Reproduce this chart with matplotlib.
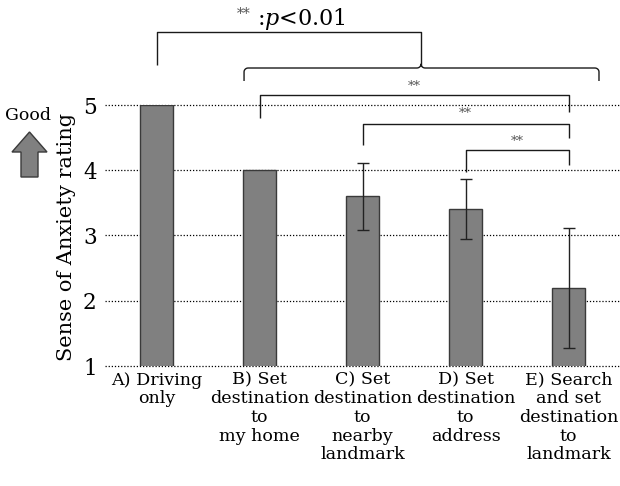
import matplotlib
matplotlib.use('Agg')
import matplotlib.pyplot as plt
import numpy as np
from matplotlib.patches import Polygon

categories = ["A) Driving\nonly",
              "B) Set\ndestination\nto\nmy home",
              "C) Set\ndestination\nto\nnearby\nlandmark",
              "D) Set\ndestination\nto\naddress",
              "E) Search\nand set\ndestination\nto\nlandmark"]
means = [5.0, 4.0, 3.6, 3.4, 2.2]
errors = [0.0, 0.0, 0.51, 0.46, 0.92]
yticks = [1, 2, 3, 4, 5]
ylabel = "Sense of Anxiety rating"
sig_label = "**"

plt.rcParams['font.family'] = ['DejaVu Serif']
plt.rcParams['mathtext.fontset'] = 'dejavuserif'

W, H = 620, 486
fig = plt.figure(figsize=(W / 100, H / 100), dpi=100)
ax = fig.add_axes([105 / W, 120 / H, 515 / W, 261 / H])

x = np.arange(len(categories))
ax.bar(x, means, width=0.32, color='#808080', edgecolor='#3a3a3a', linewidth=1.0, zorder=3)
for xi, m, e in zip(x, means, errors):
    if e > 0:
        ax.errorbar(xi, m, yerr=e, fmt='none', ecolor='#222222', elinewidth=1.0,
                    capsize=4, capthick=1.0, zorder=4)

ax.set_xlim(-0.5, 4.5)
ax.set_ylim(1, 5)
ax.set_yticks(yticks)
ax.set_yticklabels([str(t) for t in yticks], fontsize=15.5)
ax.set_xticks(x)
ax.set_xticklabels(categories, fontsize=12.6, linespacing=1.13, va='top')
ax.tick_params(axis='both', length=0)
ax.tick_params(axis='y', pad=6)
ax.tick_params(axis='x', pad=4)
for s in ax.spines.values():
    s.set_visible(False)
ax.yaxis.grid(True, linestyle=(0, (1, 1.5)), color='black', linewidth=0.9, zorder=0)
for gl in ax.yaxis.get_gridlines():
    gl.set_clip_on(False)

fig.text(67 / W, 1 - 237 / H, ylabel, rotation=90, fontsize=15, ha='center', va='center')

lc = '#1a1a1a'
lw = 1.0

def seg(xs, ys):
    ax.plot(xs, ys, color=lc, lw=lw, clip_on=False, solid_capstyle='butt', zorder=5)

# top bracket A vs group
xm = 2.568
seg([0, 0, xm, xm], [5.613, 6.119, 6.119, 5.60])

# curly brace over B..E
def brace(x0, x1, xm, y, yb, rx=0.04, ry=0.06):
    pts = [(x0, yb), (x0, y - ry)]
    t = np.linspace(np.pi, np.pi / 2, 8)
    pts += [(x0 + rx + rx * np.cos(a), y - ry + ry * np.sin(a)) for a in t]
    t = np.linspace(-np.pi / 2, 0, 8)
    pts += [(xm - rx + rx * np.cos(a), y + ry + ry * np.sin(a)) for a in t]
    t = np.linspace(np.pi, 3 * np.pi / 2, 8)
    pts += [(xm + rx + rx * np.cos(a), y + ry + ry * np.sin(a)) for a in t]
    t = np.linspace(np.pi / 2, 0, 8)
    pts += [(x1 - rx + rx * np.cos(a), y - ry + ry * np.sin(a)) for a in t]
    pts += [(x1, yb)]
    xs, ys = zip(*pts)
    seg(xs, ys)

brace(0.85, 4.296, xm, 5.567, 5.368)

# pairwise brackets
pairs = [(1, 4, 5.153, 4.80, 4.89, 5.29),
         (2, 4, 4.709, 4.387, 4.494, 4.877),
         (3, 4, 4.310, 3.973, 4.08, 4.448)]
for a, b, ytop, yl, yr, ys in pairs:
    seg([a, a, b, b], [yl, ytop, ytop, yr])
    ax.text((a + b) / 2, ys, sig_label, ha='center', va='center', fontsize=9.5,
            color='#555555', clip_on=False)

# significance legend
fig.text(244 / W, 1 - 14 / H, sig_label, ha='center', va='center', fontsize=10, color='#555555')
fig.text(257 / W, 1 - 25 / H, r":$\it{p}$<0.01", ha='left', va='baseline', fontsize=16)

# "Good" arrow
fig.text(28 / W, 1 - 116 / H, "Good", ha='center', va='center', fontsize=12.5)
arrow_px = [(29.5, 132), (47, 152), (38, 152), (38, 177), (21, 177), (21, 152), (12, 152)]
arrow = Polygon([(px / W, 1 - py / H) for px, py in arrow_px], closed=True,
                transform=fig.transFigure, facecolor='#808080', edgecolor='#3a3a3a', linewidth=1.0)
fig.patches.append(arrow)

fig.savefig('out.png', dpi=100)
